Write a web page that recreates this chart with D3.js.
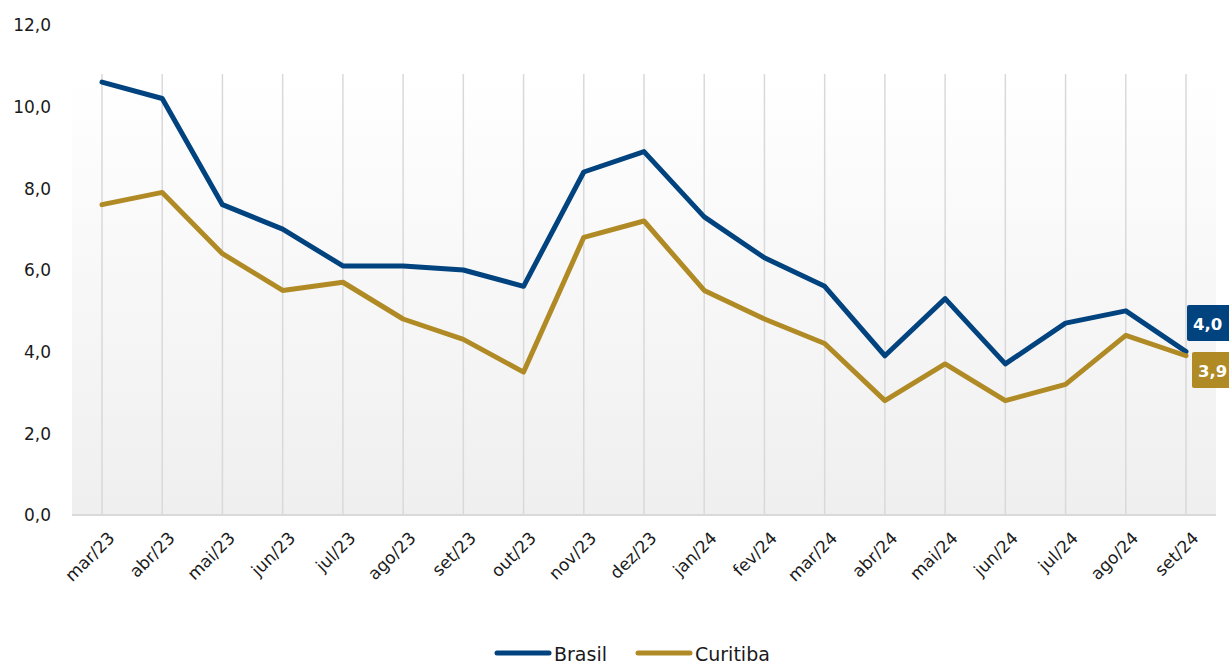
<!DOCTYPE html>
<html>
<head>
<meta charset="utf-8">
<script src="https://cdn.jsdelivr.net/npm/d3@7"></script>
<style>
  body { margin: 0; background: #fff; }
  svg { display: block; font-family: "DejaVu Sans", sans-serif; }
</style>
</head>
<body>
<div id="chart"></div>
<script>
// months on the x axis
var months = ["mar/23", "abr/23", "mai/23", "jun/23", "jul/23", "ago/23", "set/23", "out/23", "nov/23", "dez/23",
  "jan/24", "fev/24", "mar/24", "abr/24", "mai/24", "jun/24", "jul/24", "ago/24", "set/24"];

var brasil = [10.6, 10.2, 7.6, 7.0, 6.1, 6.1, 6.0, 5.6, 8.4, 8.9, 7.3, 6.3, 5.6, 3.9, 5.3, 3.7, 4.7, 5.0, 4.0];
var curitiba = [7.6, 7.9, 6.4, 5.5, 5.7, 4.8, 4.3, 3.5, 6.8, 7.2, 5.5, 4.8, 4.2, 2.8, 3.7, 2.8, 3.2, 4.4, 3.9];

var yTicks = [0, 2, 4, 6, 8, 10, 12];
var seriesNames = ["Brasil", "Curitiba"];
var colors = ["#00437f", "#b08a24"];

var width = 1229, height = 666;
var font = "'DejaVu Sans', sans-serif";

var svg = d3.select("#chart").append("svg")
  .attr("width", width)
  .attr("height", height);

// scales
var x = d3.scalePoint().domain(months).range([102, 1186]);
var y = d3.scaleLinear().domain([0, 12]).range([515, 25]);

// plot background, white to light grey
var defs = svg.append("defs");
var grad = defs.append("linearGradient")
  .attr("id", "bg")
  .attr("x1", 0).attr("y1", 0).attr("x2", 0).attr("y2", 1);
grad.append("stop").attr("offset", "0%").attr("stop-color", "#ffffff");
grad.append("stop").attr("offset", "100%").attr("stop-color", "#efefef");

svg.append("rect")
  .attr("x", 72)
  .attr("y", y(10.8))
  .attr("width", 1216 - 72)
  .attr("height", y(0) - y(10.8))
  .attr("fill", "url(#bg)");

// vertical grid lines at each month
svg.append("g").selectAll("line")
  .data(months)
  .enter().append("line")
  .attr("x1", function (d) { return x(d); })
  .attr("x2", function (d) { return x(d); })
  .attr("y1", y(10.8))
  .attr("y2", y(0))
  .attr("stroke", "#d9d9d9")
  .attr("stroke-width", 1.5);

// base line
svg.append("line")
  .attr("x1", 72).attr("x2", 1216)
  .attr("y1", y(0)).attr("y2", y(0))
  .attr("stroke", "#d9d9d9")
  .attr("stroke-width", 2);

// y axis labels
var fmt = function (v) { return d3.format(".1f")(v).replace(".", ","); };

var yAxis = d3.axisLeft(y).tickValues(yTicks).tickFormat(fmt).tickSize(0).tickPadding(0);
var gy = svg.append("g")
  .attr("transform", "translate(51,0)")
  .call(yAxis);
gy.select(".domain").remove();
gy.selectAll("text")
  .attr("font-size", 17)
  .attr("fill", "#1a1a1a")
  .attr("dy", "0.35em")
  .style("font-family", font);

// x axis labels, rotated
var xAxis = d3.axisBottom(x).tickSize(0).tickPadding(0);
var gx = svg.append("g")
  .attr("transform", "translate(0," + 535 + ")")
  .call(xAxis);
gx.select(".domain").remove();
gx.selectAll("text")
  .attr("font-size", 17)
  .attr("fill", "#1a1a1a")
  .attr("text-anchor", "end")
  .attr("dy", "0.35em")
  .attr("transform", "translate(9,0) rotate(-45)")
  .style("font-family", font);

// lines
var line = d3.line()
  .x(function (d, i) { return x(months[i]); })
  .y(function (d) { return y(d); });

[brasil, curitiba].forEach(function (s, k) {
  svg.append("path")
    .datum(s)
    .attr("d", line)
    .attr("fill", "none")
    .attr("stroke", colors[k])
    .attr("stroke-width", 5)
    .attr("stroke-linejoin", "round")
    .attr("stroke-linecap", "round");
});

// end labels
var last = months.length - 1;
var endLabels = [
  { v: brasil[last], c: colors[0], bx: 1187, by: 305 },
  { v: curitiba[last], c: colors[1], bx: 1192, by: 352 }
];
endLabels.forEach(function (d) {
  svg.append("rect")
    .attr("x", d.bx)
    .attr("y", d.by)
    .attr("width", 60)
    .attr("height", 36)
    .attr("rx", 2)
    .attr("fill", d.c);
  svg.append("text")
    .attr("x", d.bx + 6)
    .attr("y", d.by + 25)
    .attr("fill", "#fff")
    .attr("font-size", 16.5)
    .attr("font-weight", "bold")
    .text(fmt(d.v));
});

// legend
var legX = [495, 636];
seriesNames.forEach(function (n, k) {
  var g = svg.append("g").attr("transform", "translate(" + legX[k] + ",653)");
  g.append("line")
    .attr("x1", 2).attr("x2", 54)
    .attr("stroke", colors[k])
    .attr("stroke-width", 5)
    .attr("stroke-linecap", "round");
  g.append("text")
    .attr("x", 59)
    .attr("y", 8)
    .attr("font-size", 19)
    .attr("fill", "#1a1a1a")
    .text(n);
});
</script>
</body>
</html>
